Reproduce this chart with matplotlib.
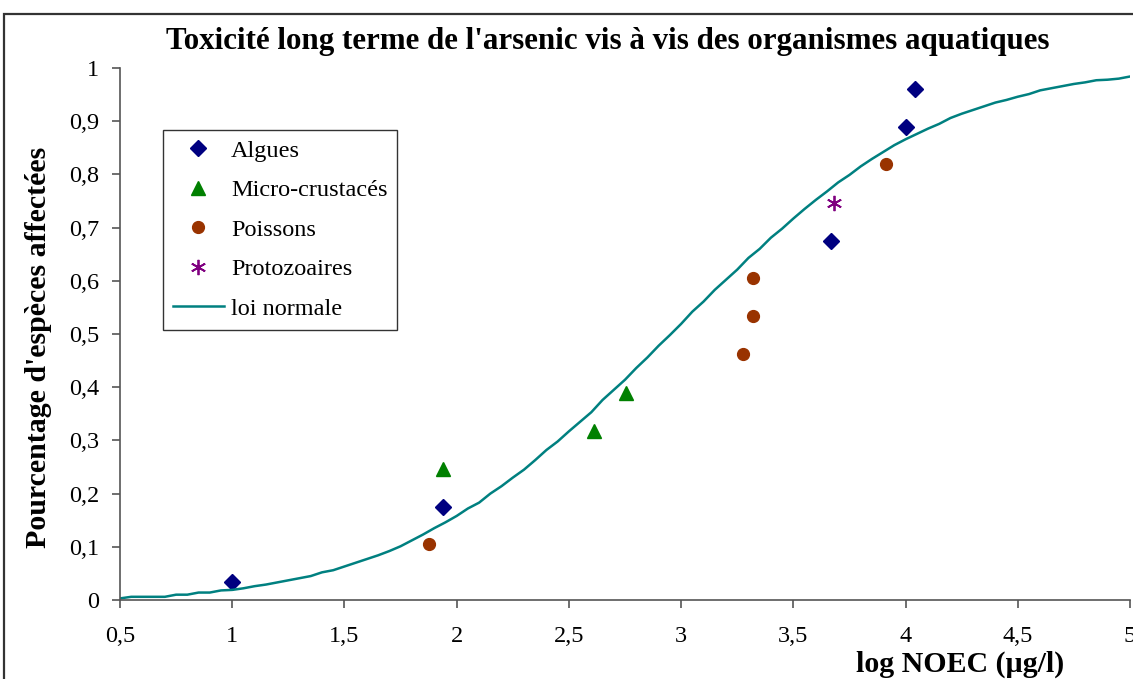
import matplotlib
matplotlib.use("Agg")
import matplotlib.pyplot as plt
from matplotlib.patches import Rectangle
from matplotlib.ticker import FuncFormatter

plt.rcParams['font.family'] = ['Liberation Serif', 'DejaVu Serif']

# points (log NOEC, fraction cumulee)
algues_x = [1.00, 1.94, 3.67, 4.00, 4.04]
algues_y = [0.033, 0.175, 0.675, 0.890, 0.961]
crust_x = [1.94, 2.61, 2.755]
crust_y = [0.247, 0.317, 0.389]
poissons_x = [1.875, 3.275, 3.32, 3.32, 3.915]
poissons_y = [0.105, 0.462, 0.534, 0.605, 0.820]
proto_x = [3.68]
proto_y = [0.746]

# courbe "loi normale" lue tous les 0,05
courbe_x = [0.50, 0.55, 0.60, 0.65, 0.70, 0.75, 0.80, 0.85, 0.90, 0.95,
            1.00, 1.05, 1.10, 1.15, 1.20, 1.25, 1.30, 1.35, 1.40, 1.45,
            1.50, 1.55, 1.60, 1.65, 1.70, 1.75, 1.80, 1.85, 1.90, 1.95,
            2.00, 2.05, 2.10, 2.15, 2.20, 2.25, 2.30, 2.35, 2.40, 2.45,
            2.50, 2.55, 2.60, 2.65, 2.70, 2.75, 2.80, 2.85, 2.90, 2.95,
            3.00, 3.05, 3.10, 3.15, 3.20, 3.25, 3.30, 3.35, 3.40, 3.45,
            3.50, 3.55, 3.60, 3.65, 3.70, 3.75, 3.80, 3.85, 3.90, 3.95,
            4.00, 4.05, 4.10, 4.15, 4.20, 4.25, 4.30, 4.35, 4.40, 4.45,
            4.50, 4.55, 4.60, 4.65, 4.70, 4.75, 4.80, 4.85, 4.90, 4.95,
            5.00]
courbe_y = [0.003, 0.006, 0.006, 0.006, 0.006, 0.010, 0.010, 0.014, 0.014, 0.018,
            0.019, 0.022, 0.026, 0.029, 0.033, 0.037, 0.041, 0.045, 0.052, 0.056,
            0.063, 0.070, 0.077, 0.084, 0.092, 0.101, 0.112, 0.123, 0.135, 0.146,
            0.158, 0.172, 0.183, 0.200, 0.214, 0.230, 0.245, 0.263, 0.282, 0.298,
            0.317, 0.335, 0.353, 0.376, 0.395, 0.414, 0.436, 0.456, 0.478, 0.498,
            0.519, 0.542, 0.561, 0.583, 0.602, 0.621, 0.643, 0.660, 0.681, 0.698,
            0.717, 0.735, 0.752, 0.768, 0.785, 0.799, 0.815, 0.829, 0.842, 0.855,
            0.866, 0.876, 0.886, 0.895, 0.906, 0.914, 0.921, 0.928, 0.935, 0.940,
            0.946, 0.951, 0.958, 0.962, 0.966, 0.970, 0.973, 0.977, 0.978, 0.980,
            0.984]

fig = plt.figure(figsize=(11.33, 6.79), dpi=100)
ax = fig.add_axes([120/1133, 1 - 600/679, 1010/1133, 532/679])

# cadre exterieur (coupe a droite et en bas)
fig.patches.append(Rectangle((4/1133, -0.05), 1.2, 1 - 14/679 + 0.05,
                             transform=fig.transFigure, fill=False,
                             edgecolor='#333333', linewidth=1.6))

ax.plot(algues_x, algues_y, linestyle='none', marker='D', color='#000080',
        markersize=8.5, label='Algues')
ax.plot(crust_x, crust_y, linestyle='none', marker='^', color='#008000',
        markersize=10, label='Micro-crustacés')
ax.plot(poissons_x, poissons_y, linestyle='none', marker='o', color='#993300',
        markersize=8.5, label='Poissons')
ax.plot(proto_x, proto_y, linestyle='none', marker=(6, 2, 0), color='#800080',
        markersize=11, markeredgewidth=1.3, label='Protozoaires')
ax.plot(courbe_x, courbe_y, color='#008080', linewidth=1.8, label='loi normale')

ax.set_xlim(0.5, 5)
ax.set_ylim(0, 1)
ax.set_xticks([0.5, 1, 1.5, 2, 2.5, 3, 3.5, 4, 4.5, 5])
ax.set_yticks([i / 10 for i in range(11)])
virgule = FuncFormatter(lambda v, p: ('%g' % v).replace('.', ','))
ax.xaxis.set_major_formatter(virgule)
ax.yaxis.set_major_formatter(virgule)

for s in ['top', 'right']:
    ax.spines[s].set_visible(False)
for s in ['left', 'bottom']:
    ax.spines[s].set_color('#555555')
    ax.spines[s].set_linewidth(1.2)
ax.tick_params(direction='out', length=6, width=1.2, color='#555555',
               labelsize=17.5, labelcolor='black')
ax.tick_params(axis='x', pad=13)
ax.tick_params(axis='y', pad=9)

fig.text(608/1133, 1 - 41/679, "Toxicité long terme de l'arsenic vis à vis des organismes aquatiques",
         ha='center', va='center', fontsize=22.3, fontweight='bold')
fig.text(39/1133, 1 - 347/679, "Pourcentage d'espèces affectées", rotation=90,
         ha='center', va='center', fontsize=21.5, fontweight='bold')
fig.text(960/1133, 1 - 664/679, "log NOEC (µg/l)", ha='center', va='center',
         fontsize=21.5, fontweight='bold')

leg = ax.legend(loc='upper left', bbox_to_anchor=(43/1010, (600 - 130)/532),
                borderaxespad=0, fancybox=False, frameon=True, fontsize=17.5,
                handlelength=2.1, handletextpad=0.3, labelspacing=0.72,
                borderpad=0.4, numpoints=1)
leg.get_frame().set_edgecolor('black')
leg.get_frame().set_linewidth(1.0)

fig.savefig('out.png', dpi=100)
